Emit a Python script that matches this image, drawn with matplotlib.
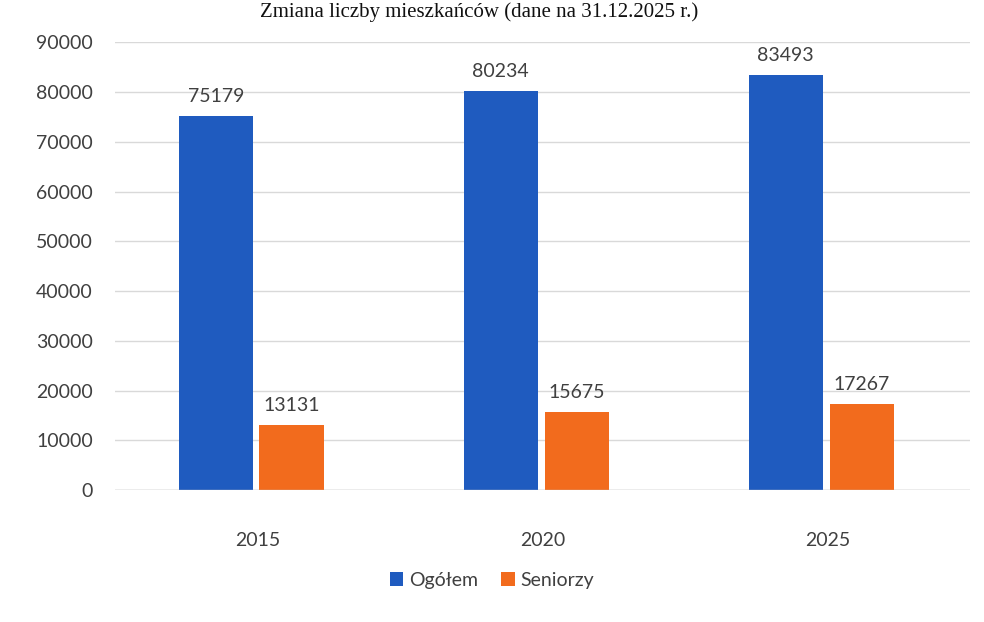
import matplotlib.pyplot as plt
import numpy as np

plt.rcParams['font.family'] = ['Lato', 'DejaVu Sans']

years = ['2015', '2020', '2025']
ogolem = [75179, 80234, 83493]
seniorzy = [13131, 15675, 17267]
yticks = list(range(0, 90001, 10000))

blue = '#1f5bbf'
orange = '#f26b1d'
txt = '#404040'

fig = plt.figure(figsize=(9.84, 6.22), dpi=100)
ax = fig.add_axes([0.117, 0.212, 0.869, 0.72])

x = np.arange(len(years))
b1 = ax.bar(x - 0.147, ogolem, 0.26, color=blue, label='Ogółem')
b2 = ax.bar(x + 0.119, seniorzy, 0.225, color=orange, label='Seniorzy')

for bars in (b1, b2):
    for r in bars:
        ax.annotate(str(int(r.get_height())), (r.get_x() + r.get_width() / 2, r.get_height()),
                    xytext=(0, 8), textcoords='offset points', ha='center', va='bottom',
                    fontsize=14, color=txt)

ax.set_xlim(-0.5, 2.5)
ax.set_ylim(0, 90000)
ax.set_yticks(yticks)
ax.set_yticklabels([str(v) for v in yticks])
ax.set_xticks(x)
ax.set_xticklabels(years)
ax.tick_params(axis='y', length=0, pad=16, labelsize=14, labelcolor=txt)
ax.tick_params(axis='x', length=0, pad=30, labelsize=14, labelcolor=txt)
ax.grid(axis='y', color='#d9d9d9', linewidth=1)
ax.set_axisbelow(True)
for s in ax.spines.values():
    s.set_visible(False)
ax.axhline(0, color='#bfbfbf', linewidth=1)

fig.legend(loc='center', bbox_to_anchor=(0.5, 0.067), ncol=2, frameon=False,
           fontsize=14, handlelength=0.7, handleheight=0.7, handletextpad=0.3,
           columnspacing=1.2, labelcolor=txt)

fig.text(0.71, 0.997, 'Zmiana liczby mieszkańców (dane na 31.12.2025 r.)', ha='right', va='top',
         family='Liberation Serif', fontsize=15, color='#111111')

fig.savefig('out.png', dpi=100, facecolor='white')
